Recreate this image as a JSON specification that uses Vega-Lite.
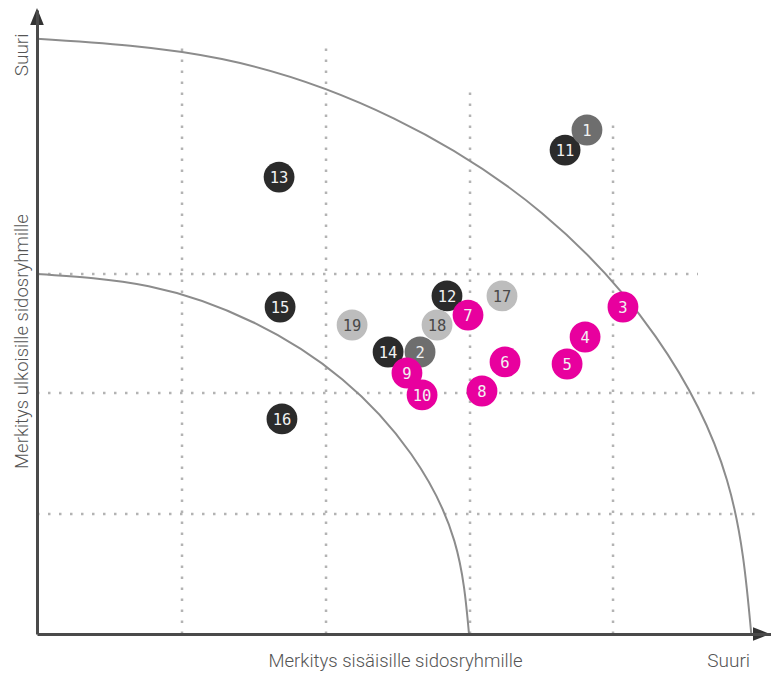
{
  "$schema": "https://vega.github.io/schema/vega-lite/v6.json",
  "width": 734,
  "height": 624,
  "autosize": {"type": "none"},
  "padding": {"left": 37, "top": 10, "right": 0, "bottom": 41},
  "background": "white",
  "config": {"view": {"stroke": null}},
  "datasets": {
    "ruudukko": [
      {"x": 1.007, "y": 0, "x2": 1.007, "y2": 4.908},
      {"x": 2.007, "y": 0, "x2": 2.007, "y2": 4.925},
      {"x": 3.007, "y": 0, "x2": 3.007, "y2": 4.533},
      {"x": 4.0, "y": 0, "x2": 4.0, "y2": 4.283},
      {"x": 0, "y": 1.0, "x2": 5.0, "y2": 1.0},
      {"x": 0, "y": 2.008, "x2": 5.0, "y2": 2.008},
      {"x": 0, "y": 3.0, "x2": 4.59, "y2": 3.0}
    ],
    "kaaret": [
      {"kaari": "sisä", "k": 0, "x": 3.0, "y": 0},
      {"kaari": "sisä", "k": 15, "x": 2.898, "y": 0.776},
      {"kaari": "sisä", "k": 30, "x": 2.598, "y": 1.5},
      {"kaari": "sisä", "k": 45, "x": 2.121, "y": 2.121},
      {"kaari": "sisä", "k": 60, "x": 1.5, "y": 2.598},
      {"kaari": "sisä", "k": 75, "x": 0.776, "y": 2.898},
      {"kaari": "sisä", "k": 90, "x": 0, "y": 3.0},
      {"kaari": "ulko", "k": 0, "x": 4.96, "y": 0},
      {"kaari": "ulko", "k": 15, "x": 4.791, "y": 1.284},
      {"kaari": "ulko", "k": 30, "x": 4.295, "y": 2.48},
      {"kaari": "ulko", "k": 45, "x": 3.507, "y": 3.507},
      {"kaari": "ulko", "k": 60, "x": 2.48, "y": 4.295},
      {"kaari": "ulko", "k": 75, "x": 1.284, "y": 4.791},
      {"kaari": "ulko", "k": 90, "x": 0, "y": 4.96}
    ],
    "nuolet": [
      {"akseli": "x", "x": 5.031, "y": 0},
      {"akseli": "y", "x": 0, "y": 5.146}
    ],
    "aiheet": [
      {"nro": 11, "ryhma": "tumma", "x": 3.667, "y": 4.033},
      {"nro": 12, "ryhma": "tumma", "x": 2.847, "y": 2.817},
      {"nro": 13, "ryhma": "tumma", "x": 1.681, "y": 3.808},
      {"nro": 14, "ryhma": "tumma", "x": 2.438, "y": 2.35},
      {"nro": 15, "ryhma": "tumma", "x": 1.688, "y": 2.725},
      {"nro": 16, "ryhma": "tumma", "x": 1.701, "y": 1.792},
      {"nro": 1, "ryhma": "harmaa", "x": 3.819, "y": 4.2},
      {"nro": 2, "ryhma": "harmaa", "x": 2.66, "y": 2.35},
      {"nro": 17, "ryhma": "vaalea", "x": 3.229, "y": 2.817},
      {"nro": 18, "ryhma": "vaalea", "x": 2.778, "y": 2.575},
      {"nro": 19, "ryhma": "vaalea", "x": 2.188, "y": 2.575},
      {"nro": 3, "ryhma": "magenta", "x": 4.069, "y": 2.725},
      {"nro": 4, "ryhma": "magenta", "x": 3.806, "y": 2.475},
      {"nro": 5, "ryhma": "magenta", "x": 3.681, "y": 2.25},
      {"nro": 6, "ryhma": "magenta", "x": 3.25, "y": 2.267},
      {"nro": 7, "ryhma": "magenta", "x": 2.993, "y": 2.658},
      {"nro": 8, "ryhma": "magenta", "x": 3.09, "y": 2.025},
      {"nro": 9, "ryhma": "magenta", "x": 2.569, "y": 2.175},
      {"nro": 10, "ryhma": "magenta", "x": 2.674, "y": 1.992}
    ]
  },
  "encoding": {
    "x": {
      "field": "x", "type": "quantitative",
      "scale": {"domain": [0, 5.097], "nice": false, "zero": false},
      "axis": {
        "title": "Merkitys sisäisille sidosryhmille",
        "values": [4.8], "labelExpr": "'Suuri'",
        "ticks": false, "tickSize": 0, "grid": false,
        "domainColor": "#4a4a4a", "domainWidth": 3,
        "labelFont": "Roboto", "labelFontWeight": 300, "labelFontSize": 19, "labelColor": "#555555",
        "labelPadding": 17, "labelBaseline": "top", "labelAlign": "center",
        "labelFlush": false, "labelOverlap": false,
        "titleFont": "Roboto", "titleFontWeight": 300, "titleFontSize": 18.5, "titleColor": "#555555",
        "titleX": 358, "titleY": 17, "titleBaseline": "top", "titleAlign": "center",
        "zindex": 1
      }
    },
    "y": {
      "field": "y", "type": "quantitative",
      "scale": {"domain": [0, 5.2], "nice": false, "zero": false},
      "axis": {
        "title": "Merkitys ulkoisille sidosryhmille",
        "values": [4.83], "labelExpr": "'Suuri'",
        "ticks": false, "tickSize": 0, "grid": false,
        "domainColor": "#4a4a4a", "domainWidth": 3,
        "labelFont": "Roboto", "labelFontWeight": 300, "labelFontSize": 19, "labelColor": "#555555",
        "labelAngle": 270, "labelPadding": 10, "labelBaseline": "alphabetic", "labelAlign": "center",
        "labelFlush": false, "labelOverlap": false,
        "titleFont": "Roboto", "titleFontWeight": 300, "titleFontSize": 18.5, "titleColor": "#555555",
        "titleAngle": 270, "titleX": -10, "titleY": 331, "titleBaseline": "alphabetic", "titleAlign": "center",
        "zindex": 1
      }
    }
  },
  "layer": [
    {
      "data": {"name": "ruudukko"},
      "mark": {"type": "rule", "color": "#b3b3b3", "strokeWidth": 2.5, "strokeDash": [2.5, 8.5]},
      "encoding": {
        "x2": {"field": "x2"},
        "y2": {"field": "y2"}
      }
    },
    {
      "data": {"name": "kaaret"},
      "mark": {"type": "line", "color": "#8c8c8c", "strokeWidth": 2, "interpolate": "natural"},
      "encoding": {
        "detail": {"field": "kaari"},
        "order": {"field": "k", "type": "quantitative"}
      }
    },
    {
      "data": {"name": "nuolet"},
      "mark": {"type": "point", "filled": true, "size": 289, "color": "#333333", "opacity": 1},
      "encoding": {
        "shape": {
          "field": "akseli", "type": "nominal",
          "scale": {"domain": ["x", "y"], "range": ["M1,0L-1,-0.8L-1,0.8Z", "M0,-1L0.8,1L-0.8,1Z"]},
          "legend": null
        }
      }
    },
    {
      "data": {"name": "aiheet"},
      "mark": {"type": "circle", "size": 950, "opacity": 1},
      "encoding": {
        "color": {
          "field": "ryhma", "type": "nominal",
          "scale": {"domain": ["tumma", "harmaa", "vaalea", "magenta"], "range": ["#2b2b2b", "#6e6e6e", "#bdbdbd", "#e8009e"]},
          "legend": null
        }
      }
    },
    {
      "data": {"name": "aiheet"},
      "mark": {"type": "text", "font": "DejaVu Sans Mono", "fontSize": 15.5, "align": "center", "baseline": "middle", "dy": 1},
      "encoding": {
        "text": {"field": "nro", "type": "nominal"},
        "color": {
          "condition": {"test": "datum.ryhma === 'vaalea'", "value": "#4a4a4a"},
          "value": "#f2f2f2"
        }
      }
    }
  ]
}
